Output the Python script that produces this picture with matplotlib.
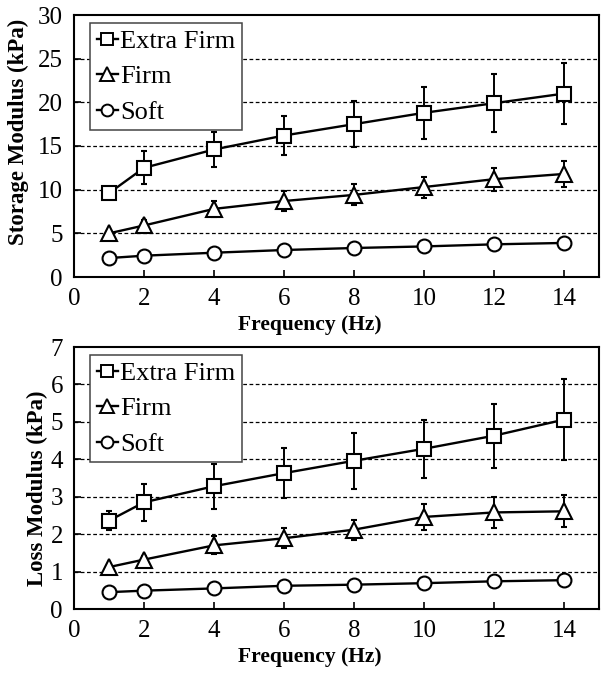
import matplotlib
matplotlib.use("Agg")
import matplotlib.pyplot as plt
from matplotlib.ticker import MultipleLocator
from matplotlib.lines import Line2D

plt.rcParams['font.family'] = ['Liberation Serif', 'DejaVu Serif']

freq = [1, 2, 4, 6, 8, 10, 12, 14]
series = ["Extra Firm", "Firm", "Soft"]
markers = ["s", "^", "o"]
msizes = [10, 11.5, 10]

storage_extra = [9.6, 12.5, 14.6, 16.2, 17.5, 18.8, 19.9, 21.0]
storage_extra_err = [0.7, 1.9, 1.95, 2.25, 2.6, 3.0, 3.3, 3.5]
storage_firm = [5.0, 5.9, 7.8, 8.7, 9.4, 10.3, 11.2, 11.8]
storage_firm_err = [0.3, 0.6, 0.9, 1.1, 1.2, 1.2, 1.3, 1.5]
storage_soft = [2.17, 2.44, 2.78, 3.09, 3.32, 3.5, 3.74, 3.9]
storage_soft_err = [0.15, 0.15, 0.15, 0.15, 0.15, 0.15, 0.15, 0.15]

loss_extra = [2.36, 2.85, 3.28, 3.63, 3.96, 4.28, 4.63, 5.06]
loss_extra_err = [0.25, 0.5, 0.6, 0.67, 0.75, 0.78, 0.85, 1.08]
loss_firm = [1.12, 1.32, 1.70, 1.89, 2.12, 2.46, 2.58, 2.61]
loss_firm_err = [0.08, 0.1, 0.24, 0.27, 0.27, 0.34, 0.41, 0.43]
loss_soft = [0.45, 0.49, 0.55, 0.62, 0.65, 0.69, 0.74, 0.77]
loss_soft_err = [0.04, 0.04, 0.04, 0.04, 0.04, 0.04, 0.04, 0.04]

W, H = 612, 675
fig = plt.figure(figsize=(W / 100, H / 100), dpi=100)
L, R = 74, 599
AH = 262
ax1 = fig.add_axes([L / W, 1 - 277 / H, (R - L) / W, AH / H])
ax2 = fig.add_axes([L / W, 1 - 609 / H, (R - L) / W, AH / H])

def draw(ax, data, ymax, ystep, ylabel, ylab_x, ylab_y):
    handles = []
    for (vals, errs), lab, m, ms in zip(data, series, markers, msizes):
        ax.errorbar(freq, vals, yerr=errs, color='black', lw=1.7, marker=m,
                    markersize=ms, markerfacecolor='white',
                    markeredgecolor='black', markeredgewidth=1.5,
                    elinewidth=1.4, capsize=2.5, capthick=1.4, zorder=3)
        handles.append(Line2D([], [], color='black', lw=1.7, marker=m,
                              markersize=ms * 0.85, markerfacecolor='white',
                              markeredgecolor='black', markeredgewidth=1.4,
                              label=lab))
    ax.set_xlim(0, 15)
    ax.set_ylim(0, ymax)
    ax.xaxis.set_major_locator(MultipleLocator(2))
    ax.yaxis.set_major_locator(MultipleLocator(ystep))
    for y in range(1, int(round(ymax / ystep))):
        ax.axhline(y * ystep, color='black', ls=(0, (3, 2)), lw=0.9, zorder=1)
    ax.tick_params(direction='in', length=5, width=1.2, labelsize=18, pad=8)
    for s in ax.spines.values():
        s.set_linewidth(1.5)
    ax.set_xlabel('Frequency (Hz)', fontsize=15.5, fontweight='bold', va='center')
    ax.xaxis.set_label_coords((310 - L) / (R - L), -48 / AH)
    ax.set_ylabel(ylabel, fontsize=16.5, fontweight='bold', va='center')
    ax.yaxis.set_label_coords(-(L - ylab_x) / (R - L), ylab_y)
    leg = ax.legend(handles=handles, loc='upper left',
                    bbox_to_anchor=(16 / (R - L), 1 - 8 / AH), fontsize=19,
                    frameon=True, fancybox=False, edgecolor='#444444',
                    framealpha=1, handlelength=0.8, handletextpad=0.1,
                    borderpad=0.25, labelspacing=0.45, borderaxespad=0.0)
    leg.get_frame().set_linewidth(1.1)
    leg.set_zorder(5)

draw(ax1, [(storage_extra, storage_extra_err), (storage_firm, storage_firm_err),
           (storage_soft, storage_soft_err)], 30, 5, 'Storage Modulus (kPa)', 18, 0.553)
draw(ax2, [(loss_extra, loss_extra_err), (loss_firm, loss_firm_err),
           (loss_soft, loss_soft_err)], 7, 1, 'Loss Modulus (kPa)', 37, 0.46)

fig.savefig('out.png', dpi=100)
